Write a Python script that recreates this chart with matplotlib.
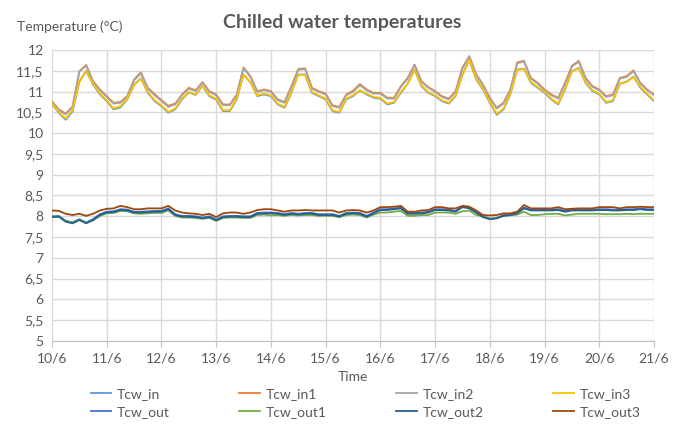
import numpy as np
import matplotlib.pyplot as plt

# Tempo em horas desde 10/6 00:00, uma leitura a cada 3 h
hours = np.arange(0, 265, 3)
day_labels = ["10/6", "11/6", "12/6", "13/6", "14/6", "15/6", "16/6",
              "17/6", "18/6", "19/6", "20/6", "21/6"]

# Entrada da água gelada
Tcw_in = [10.70, 10.49, 10.32, 10.52, 11.24, 11.50, 11.17, 10.93,
          10.77, 10.57, 10.62, 10.81, 11.16, 11.32, 10.97, 10.77,
          10.65, 10.49, 10.57, 10.81, 10.98, 10.92, 11.13, 10.89,
          10.81, 10.53, 10.53, 10.81, 11.41, 11.22, 10.89, 10.93,
          10.89, 10.69, 10.61, 10.97, 11.41, 11.41, 10.97, 10.89,
          10.81, 10.53, 10.49, 10.81, 10.89, 11.03, 10.93, 10.85,
          10.83, 10.69, 10.73, 10.97, 11.19, 11.53, 11.13, 10.97,
          10.89, 10.77, 10.71, 10.89, 11.41, 11.76, 11.29, 11.05,
          10.73, 10.44, 10.57, 10.93, 11.53, 11.55, 11.21, 11.09,
          10.97, 10.81, 10.69, 11.05, 11.49, 11.57, 11.21, 11.01,
          10.93, 10.73, 10.77, 11.19, 11.24, 11.36, 11.09, 10.93,
          10.77]
Tcw_in1 = [10.76, 10.57, 10.47, 10.64, 11.49, 11.64, 11.25, 11.05,
           10.89, 10.73, 10.75, 10.89, 11.29, 11.46, 11.09, 10.94,
           10.79, 10.66, 10.71, 10.93, 11.09, 11.03, 11.23, 11.01,
           10.93, 10.69, 10.69, 10.93, 11.58, 11.37, 11.01, 11.05,
           11.01, 10.81, 10.75, 11.13, 11.54, 11.56, 11.09, 11.01,
           10.95, 10.67, 10.63, 10.93, 11.02, 11.18, 11.05, 10.97,
           10.97, 10.85, 10.85, 11.13, 11.33, 11.65, 11.25, 11.11,
           11.01, 10.89, 10.83, 11.01, 11.58, 11.85, 11.42, 11.17,
           10.85, 10.61, 10.73, 11.05, 11.70, 11.74, 11.33, 11.21,
           11.05, 10.93, 10.85, 11.21, 11.62, 11.74, 11.33, 11.13,
           11.05, 10.89, 10.93, 11.33, 11.37, 11.51, 11.21, 11.05,
           10.93]
Tcw_in2 = [10.75, 10.55, 10.45, 10.62, 11.48, 11.62, 11.23, 11.03,
           10.87, 10.71, 10.73, 10.87, 11.27, 11.44, 11.07, 10.91,
           10.77, 10.63, 10.69, 10.91, 11.07, 11.01, 11.21, 10.99,
           10.91, 10.67, 10.67, 10.91, 11.56, 11.35, 10.99, 11.03,
           10.99, 10.79, 10.73, 11.11, 11.52, 11.54, 11.07, 10.99,
           10.93, 10.65, 10.61, 10.91, 10.99, 11.15, 11.03, 10.95,
           10.95, 10.83, 10.83, 11.11, 11.31, 11.64, 11.23, 11.09,
           10.99, 10.87, 10.81, 10.99, 11.56, 11.84, 11.40, 11.15,
           10.83, 10.59, 10.71, 11.03, 11.68, 11.72, 11.31, 11.19,
           11.03, 10.91, 10.83, 11.19, 11.60, 11.72, 11.31, 11.11,
           11.03, 10.87, 10.91, 11.31, 11.35, 11.49, 11.19, 11.03,
           10.91]
Tcw_in3 = [10.71, 10.51, 10.35, 10.55, 11.23, 11.49, 11.19, 10.95,
           10.79, 10.59, 10.65, 10.83, 11.15, 11.31, 10.99, 10.79,
           10.67, 10.51, 10.59, 10.83, 10.99, 10.93, 11.13, 10.91,
           10.83, 10.55, 10.55, 10.83, 11.40, 11.23, 10.91, 10.95,
           10.91, 10.71, 10.63, 10.99, 11.40, 11.40, 10.99, 10.91,
           10.83, 10.55, 10.51, 10.83, 10.91, 11.03, 10.95, 10.87,
           10.85, 10.71, 10.75, 10.99, 11.19, 11.52, 11.15, 10.99,
           10.91, 10.79, 10.73, 10.91, 11.40, 11.76, 11.31, 11.07,
           10.75, 10.47, 10.59, 10.95, 11.52, 11.54, 11.23, 11.11,
           10.99, 10.83, 10.71, 11.07, 11.48, 11.56, 11.23, 11.03,
           10.95, 10.75, 10.79, 11.19, 11.23, 11.35, 11.11, 10.95,
           10.79]

# Saída da água gelada
Tcw_out = [8.00, 8.01, 7.89, 7.85, 7.93, 7.85, 7.93, 8.05,
           8.11, 8.12, 8.17, 8.16, 8.11, 8.11, 8.12, 8.13,
           8.13, 8.19, 8.05, 8.01, 8.01, 8.00, 7.97, 8.00,
           7.92, 8.00, 8.01, 8.01, 8.00, 8.00, 8.08, 8.09,
           8.09, 8.08, 8.05, 8.08, 8.06, 8.08, 8.08, 8.05,
           8.05, 8.05, 8.01, 8.08, 8.09, 8.08, 8.01, 8.09,
           8.17, 8.17, 8.19, 8.21, 8.08, 8.08, 8.09, 8.11,
           8.17, 8.17, 8.16, 8.13, 8.24, 8.21, 8.11, 8.00,
           7.94, 7.96, 8.03, 8.05, 8.09, 8.21, 8.16, 8.16,
           8.16, 8.16, 8.17, 8.13, 8.16, 8.16, 8.16, 8.16,
           8.17, 8.17, 8.16, 8.16, 8.17, 8.17, 8.19, 8.17,
           8.17]
Tcw_out1 = [7.99, 8.00, 7.89, 7.85, 7.92, 7.85, 7.90, 8.01,
            8.07, 8.08, 8.13, 8.12, 8.07, 8.06, 8.07, 8.08,
            8.08, 8.14, 8.01, 7.97, 7.97, 7.96, 7.94, 7.96,
            7.89, 7.96, 7.97, 7.97, 7.96, 7.96, 8.03, 8.04,
            8.02, 8.03, 8.01, 8.03, 8.02, 8.03, 8.03, 8.01,
            8.01, 8.01, 7.98, 8.03, 8.04, 8.03, 7.97, 8.04,
            8.09, 8.09, 8.11, 8.13, 8.01, 8.01, 8.03, 8.03,
            8.09, 8.09, 8.09, 8.06, 8.12, 8.14, 8.03, 8.00,
            7.94, 7.96, 8.01, 8.02, 8.04, 8.11, 8.03, 8.03,
            8.05, 8.06, 8.06, 8.02, 8.04, 8.06, 8.06, 8.06,
            8.06, 8.05, 8.05, 8.05, 8.06, 8.05, 8.06, 8.06,
            8.06]
Tcw_out2 = [7.98, 7.99, 7.87, 7.83, 7.91, 7.83, 7.91, 8.03,
            8.09, 8.10, 8.15, 8.14, 8.09, 8.09, 8.10, 8.11,
            8.11, 8.17, 8.03, 7.99, 7.99, 7.98, 7.95, 7.98,
            7.90, 7.98, 7.99, 7.99, 7.98, 7.98, 8.06, 8.07,
            8.07, 8.06, 8.03, 8.06, 8.04, 8.06, 8.06, 8.03,
            8.03, 8.03, 7.99, 8.06, 8.07, 8.06, 7.99, 8.07,
            8.15, 8.15, 8.17, 8.19, 8.06, 8.06, 8.07, 8.09,
            8.15, 8.15, 8.14, 8.11, 8.22, 8.19, 8.09, 7.98,
            7.93, 7.95, 8.01, 8.03, 8.07, 8.19, 8.14, 8.14,
            8.14, 8.14, 8.15, 8.11, 8.14, 8.14, 8.14, 8.14,
            8.15, 8.15, 8.14, 8.14, 8.15, 8.15, 8.17, 8.15,
            8.15]
Tcw_out3 = [8.14, 8.13, 8.06, 8.03, 8.06, 8.01, 8.06, 8.14,
            8.18, 8.19, 8.25, 8.22, 8.17, 8.17, 8.19, 8.19,
            8.19, 8.25, 8.14, 8.09, 8.07, 8.06, 8.03, 8.06,
            7.98, 8.07, 8.09, 8.09, 8.06, 8.09, 8.15, 8.17,
            8.17, 8.14, 8.11, 8.14, 8.14, 8.15, 8.14, 8.14,
            8.14, 8.14, 8.09, 8.14, 8.15, 8.14, 8.09, 8.14,
            8.22, 8.22, 8.23, 8.25, 8.11, 8.11, 8.14, 8.15,
            8.22, 8.22, 8.19, 8.19, 8.25, 8.23, 8.14, 8.03,
            8.02, 8.03, 8.07, 8.07, 8.11, 8.27, 8.19, 8.19,
            8.19, 8.19, 8.22, 8.17, 8.18, 8.19, 8.19, 8.19,
            8.22, 8.22, 8.22, 8.19, 8.22, 8.22, 8.23, 8.22,
            8.22]

series = [("Tcw_in", Tcw_in, "#5B9BD5"), ("Tcw_in1", Tcw_in1, "#ED7D31"),
          ("Tcw_in2", Tcw_in2, "#A5A5A5"), ("Tcw_in3", Tcw_in3, "#FFC000"),
          ("Tcw_out", Tcw_out, "#4472C4"), ("Tcw_out1", Tcw_out1, "#70AD47"),
          ("Tcw_out2", Tcw_out2, "#255E91"), ("Tcw_out3", Tcw_out3, "#9E480E")]

plt.rcParams['font.family'] = ['Lato', 'DejaVu Sans']
txt = "#595959"

fig = plt.figure(figsize=(6.78, 4.28), dpi=100)
ax = fig.add_axes([0.0767, 0.2033, 0.8879, 0.6799])

linhas = []
for nome, y, cor in series:
    l, = ax.plot(hours / 24, y, color=cor, lw=1.3, label=nome)
    linhas.append(l)

ax.set_xlim(0, 11)
ax.set_ylim(5, 12)
ax.set_xticks(range(12))
ax.set_xticklabels(day_labels)
yt = np.arange(5, 12.01, 0.5)
ax.set_yticks(yt)
ax.set_yticklabels([("%g" % v).replace(".", ",") for v in yt])
ax.grid(True, color="#D9D9D9", lw=1)
ax.set_axisbelow(True)
for s in ["top", "right", "left"]:
    ax.spines[s].set_visible(False)
ax.spines["bottom"].set_color("#BFBFBF")
ax.tick_params(axis="y", length=0, labelsize=10, labelcolor=txt, pad=6)
ax.tick_params(axis="x", length=4, color="#BFBFBF", labelsize=10, labelcolor=txt, pad=4)
ax.set_xlabel("Time", fontsize=10, color=txt, labelpad=5)

fig.text(0.505, 0.948, "Chilled water temperatures", ha="center", va="center",
         fontsize=14, fontweight="bold", color=txt)
fig.text(0.025, 0.938, "Temperature (°C)", ha="left", va="center",
         fontsize=10, color=txt)

# legenda em linhas: matplotlib preenche por coluna, então reordena
ordem = [0, 4, 1, 5, 2, 6, 3, 7]
fig.legend([linhas[i] for i in ordem], [series[i][0] for i in ordem],
           loc="center", bbox_to_anchor=(0.539, 0.059), ncol=4, frameon=False,
           fontsize=10, labelcolor=txt, handlelength=1.5, columnspacing=5.0,
           handletextpad=0.4, labelspacing=0.45)

plt.savefig("out.png", dpi=100)
